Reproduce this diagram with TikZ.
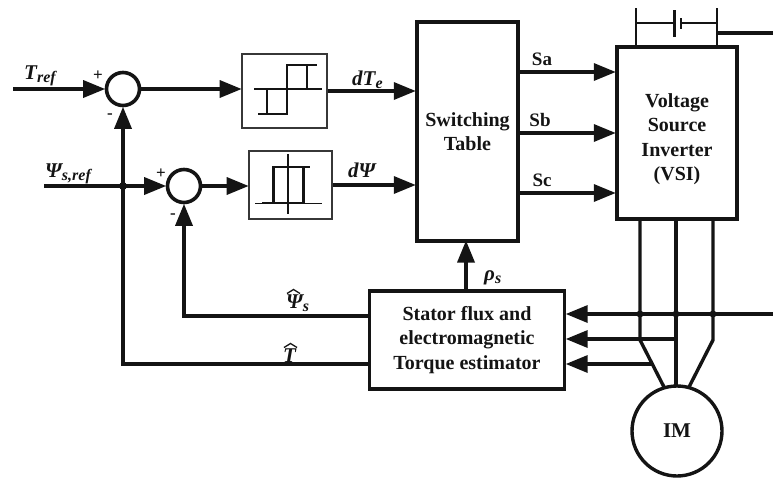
\documentclass[tikz,border=0pt]{standalone}
\usepackage{fontspec}
\setmainfont{Liberation Serif}
\usetikzlibrary{arrows.meta,calc}
\definecolor{ink}{HTML}{141414}
\tikzset{
  x=1pt,y=-1pt,
  wire/.style={draw=ink,line width=3.4pt},
  arr/.style={wire,-{Triangle[length=22pt,width=17pt]},shorten >=-0.5pt},
  thin wire/.style={draw=ink,line width=1.9pt},
  block/.style={draw=ink,line width=3.4pt,fill=white,inner sep=0pt,align=center,font=\bfseries\fontsize{20}{24.5}\selectfont,text=ink},
  blocktext/.style={inner sep=0pt,align=center,font=\bfseries\fontsize{20}{24.5}\selectfont,text=ink},
  relay/.style={draw=ink!85,line width=1.6pt,fill=white,inner sep=0pt},
  sum/.style={circle,draw=ink,line width=3.6pt,fill=white,minimum size=33pt,inner sep=0pt},
  lab/.style={font=\bfseries\itshape\fontsize{21}{24}\selectfont,text=ink,inner sep=0pt},
  sig/.style={font=\bfseries\fontsize{19}{22}\selectfont,text=ink,inner sep=0pt},
  sign/.style={font=\bfseries\fontsize{17}{17}\selectfont,text=ink,inner sep=0pt},
  dot/.style={circle,fill=ink,minimum size=7pt,inner sep=0pt},
  curve/.style={draw=ink,line width=2.6pt},
  hatmark/.style={draw=ink,line width=1.3pt,line join=miter},
}
\newcommand{\subs}[1]{\raisebox{-3.5pt}{\fontsize{16}{16}\selectfont #1}}
\begin{document}
\begin{tikzpicture}
\useasboundingbox (0,0) rectangle (773,477);
% blocks
\node[block,minimum width=101pt,minimum height=219pt] (st) at (467.5,131.5) {Switching\\Table};
\node[block,minimum width=120pt,minimum height=172pt] (vsi) at (677,133) {};
\node[blocktext] (vsitext) at (677,139) {Voltage\\Source\\Inverter\\(VSI)};
\node[block,minimum width=195pt,minimum height=98pt] (est) at (467,340) {Stator flux and\\electromagnetic\\Torque estimator};
\node[relay,minimum width=85pt,minimum height=74pt] (r1) at (284.5,91) {};
\node[relay,minimum width=83pt,minimum height=68pt] (r2) at (290.5,185) {};
\node[sum] (s1) at (123,89) {};
\node[sum] (s2) at (184,186) {};
\node[circle,draw=ink,line width=3.4pt,minimum size=90pt,inner sep=0pt,font=\bfseries\fontsize{21}{24}\selectfont,text=ink] (im) at (677,431) {IM};
% free ends
\coordinate (tin) at (13,89);
\coordinate (pin) at (44,186);
\coordinate (jn) at (123,186);
\coordinate (ttop) at (123,364);
\coordinate (ptop) at (184,316);
% forward path
\draw[arr] (tin) -- (s1.west);
\draw[arr] (s1.east) -- (r1.west |- s1.east);
\draw[arr] (r1.east) -- (st.west |- r1.east);
\draw[arr] (pin) -- (s2.west);
\draw[arr] (s2.east) -- (r2.west |- s2.east);
\draw[arr] (r2.east) -- (st.west |- r2.east);
\draw[arr] (ttop -| est.west) -- (ttop) -- (s1.south);
\draw[arr] (ptop -| est.west) -- (ptop) -- (s2.south);
\node[dot,minimum size=8pt] (jd) at (jn) {};
\draw[arr] (466,291) -- (466,241);
\draw[arr] (st.east |- 0,72) -- (vsi.west |- 0,72);
\draw[arr] (st.east |- 0,133) -- (vsi.west |- 0,133);
\draw[arr] (st.east |- 0,193) -- (vsi.west |- 0,193);
% motor phases
\coordinate (pa) at (640,340);
\coordinate (pc) at (713,340);
\draw[wire] (vsi.south -| pa) -- (pa) -- (664,387);
\draw[wire] (vsi.south -| 676,0) -- (676,387);
\draw[wire] (vsi.south -| pc) -- (pc) -- (689,387);
% current sensing
\coordinate (fe) at (773,314);
\draw[arr] (fe) -- (est.east |- fe);
\draw[arr] (676,339) -- (est.east |- 0,339);
\draw[arr] (650.5,364) -- (est.east |- 0,364);
\node[dot] (d1) at (640,314) {};
\node[dot] (d2) at (676,314) {};
\node[dot] (d3) at (713,314) {};
% battery
\coordinate (bl) at (636,47);
\coordinate (br) at (717,47);
\draw[thin wire] (bl) -- (636,8);
\draw[thin wire] (br) -- (717,8);
\draw[thin wire] (636,23) -- (674,23);
\draw[thin wire] (681,23) -- (717,23);
\draw[draw=ink,line width=3pt] (674.5,10) -- (674.5,37);
\draw[draw=ink,line width=2.2pt] (681,18) -- (681,29);
\draw[wire] (717,33) -- (773,33);
% relay 1
\draw[thin wire] (254,89) -- (322,89);
\draw[curve] (258,114) -- (287,114) -- (287,65) -- (317,65);
\draw[curve] (267,114) -- (267,89);
\draw[curve] (307,65) -- (307,89);
% relay 2
\draw[thin wire] (255,203.5) -- (322,203.5);
\draw[thin wire] (288,154) -- (288,214);
\draw[curve] (262,203) -- (303.5,203) -- (303.5,167) -- (310,167);
\draw[curve] (303.5,167) -- (273.5,167) -- (273.5,203);
% labels
\node[lab,anchor=base west] (l1) at (24,79) {T\subs{ref}};
\node[lab,anchor=base west] (l2) at (45,177) {Ψ\subs{s,ref}};
\node[lab,anchor=base west] (l3) at (352,85) {dT\subs{e}};
\node[lab,anchor=base west] (l4) at (348,177) {dΨ};
\node[lab,anchor=base west] (l5) at (484,280) {ρ\subs{s}};
\node[lab,anchor=base west] (l6) at (286,308) {Ψ\subs{s}};
\node[lab,anchor=base west] (l7) at (283,362) {T};
\draw[hatmark] (287,293.5) -- (293.5,289.5) -- (300,293.5);
\draw[hatmark] (284,347.5) -- (290.5,343.5) -- (297,347.5);
\node[sig] (sa) at (542,59) {Sa};
\node[sig] (sb) at (540,120) {Sb};
\node[sig] (sc) at (542,180) {Sc};
\node[sign] (p1) at (98,76) {+};
\node[sign] (m1) at (110,116) {-};
\node[sign] (p2) at (161,174) {+};
\node[sign] (m2) at (173,216) {-};
\end{tikzpicture}
\end{document}
